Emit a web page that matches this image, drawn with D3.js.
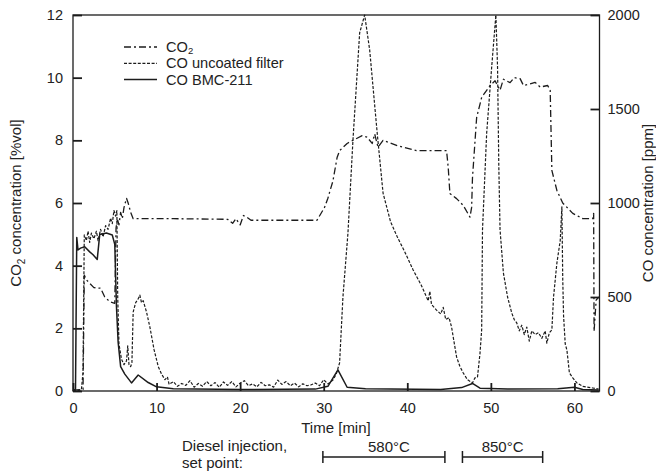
<!DOCTYPE html>
<html>
<head>
<meta charset="utf-8">
<script src="https://cdn.jsdelivr.net/npm/d3@7"></script>
<style>
  body { margin: 0; background: #fff; }
  svg { display: block; font-family: "Liberation Sans", Arial, sans-serif; }
</style>
</head>
<body>
<svg id="chart" width="656" height="473"></svg>
<script>
// --- data (time in min) ---
var co2Time = [0, 1.2, 1.35, 1.6, 2.5, 3.3, 3.8, 4.4, 5.0, 5.15, 5.3, 5.5, 5.7, 5.9, 6.1, 6.4, 6.6, 6.9, 7.2,
  12, 18.5, 19.1, 19.5, 20.0, 20.4, 20.8, 21.3, 25, 29.2, 30.1, 30.5, 30.7, 31.1, 31.6, 31.9, 32.8, 33.5,
  34.6, 35.2, 35.8, 36.1, 36.5, 37.1, 38.8, 41.1, 44.7, 44.9, 45.1, 45.9, 46.7, 47.5, 47.7, 47.8, 48.3,
  48.9, 49.9, 50.5, 51.1, 51.5, 52.3, 52.8, 53.5, 53.9, 54.7, 55.3, 55.9, 56.8, 57.1, 57.3, 57.9, 58.6,
  59.8, 61.0, 62.2, 62.3, 62.35, 62.6, 62.9];
var co2Values = [0.03, 0.05, 3.7, 3.55, 3.3, 3.28, 3.0, 2.85, 2.8, 5.2, 5.5, 5.3, 5.7, 5.5, 5.85, 6.15, 6.0, 5.7, 5.5,
  5.5, 5.48, 5.35, 5.5, 5.3, 5.6, 5.55, 5.45, 5.45, 5.45, 5.86, 6.15, 6.34, 6.7, 7.45, 7.67, 7.9, 8.0,
  8.15, 8.1, 7.9, 8.2, 7.78, 8.0, 7.83, 7.67, 7.67, 7.13, 6.3, 6.14, 5.92, 5.55, 5.86, 6.8, 8.73,
  9.37, 9.75, 9.9, 9.6, 9.95, 9.84, 10.0, 9.97, 9.75, 9.8, 9.85, 9.7, 9.75, 9.6, 7.04, 6.4, 6.0,
  5.67, 5.5, 5.5, 5.67, 1.9, 2.9, 3.0];

var uncoatedTime = [0, 1.0, 1.2, 1.35, 1.6, 1.8, 2.0, 2.2, 2.5, 2.8, 3.0, 3.3, 3.6, 3.9, 4.2, 4.5, 4.7, 4.9, 5.1,
  5.25, 5.35, 5.5, 5.8, 6.1, 6.4, 6.55, 6.7, 6.9, 7.05, 7.2, 7.5, 7.8, 8.0, 8.2, 8.4, 8.8, 9.2, 9.7,
  10.2, 10.6, 11.0, 11.3, 11.5, 12, 12.5, 13, 13.5, 14, 14.5, 15, 15.5, 16, 16.5, 17, 17.5, 18, 18.5,
  19, 19.5, 20, 20.5, 21, 21.5, 22, 22.5, 23, 23.5, 24, 24.5, 25, 25.5, 26, 26.5, 27, 27.5, 28, 28.5,
  29, 29.5, 30, 30.5, 31.1, 31.5, 31.9, 32.3, 32.9, 33.5, 34.3, 34.9, 35.5, 36.4, 37.1, 38.0, 38.8,
  39.7, 40.7, 41.7, 42.5, 42.7, 42.9, 43.5, 44.0, 44.3, 44.6, 45.0, 45.3, 45.6, 45.9, 46.3, 46.7, 47.2,
  47.8, 48.1, 48.4, 48.7, 48.9, 49.0, 49.5, 50.1, 50.6, 50.8, 50.95, 51.1, 51.5, 52.0, 52.5, 52.8, 53.1,
  53.4, 53.7, 54.0, 54.3, 54.6, 54.9, 55.3, 55.7, 56.1, 56.5, 56.7, 57.0, 57.3, 57.5, 57.9, 58.3, 58.5,
  58.6, 58.7, 58.9, 59.1, 59.4, 59.8, 60.3, 61.0, 62.2, 62.9];
var uncoatedValues = [0, 5, 100, 830, 800, 850, 790, 840, 810, 850, 800, 860, 820, 880, 860, 920, 890, 960, 930,
  960, 500, 250, 170, 140, 160, 240, 140, 130, 150, 420, 470, 490, 510, 470, 480, 420, 340, 220,
  130, 90, 60, 75, 35, 50, 25, 40, 30, 55, 20, 40, 25, 50, 28, 45, 20, 48, 30, 50, 22, 42, 55,
  28, 38, 22, 46, 28, 33, 20, 58, 35, 50, 28, 42, 22, 38, 28, 33, 42, 28, 60, 38, 58, 90, 150, 500,
  840, 1335, 1905, 2000, 1814, 1372, 1053, 900, 820, 740, 644, 560, 480, 530, 460, 430, 410, 445,
  380, 390, 340, 260, 181, 130, 96, 60, 43, 70, 74, 200, 325, 857, 1372, 1724, 2000, 1724, 1200,
  857, 628, 500, 415, 380, 362, 320, 350, 300, 340, 265, 320, 300, 310, 280, 320, 255, 310, 325, 500,
  680, 800, 980, 600, 400, 250, 218, 96, 70, 43, 25, 16, 10];

var bmcTime = [0, 0.3, 0.45, 0.6, 0.9, 1.4, 2.0, 2.4, 2.9, 3.2, 4.0, 4.7, 5.0, 5.2, 5.4, 5.7, 6.2, 7.0, 7.8, 9.0,
  10, 12, 20, 29, 30.5, 31.7, 32.8, 35, 44, 46.5, 47.8, 48.7, 52, 58, 60, 61, 62.9];
var bmcValues = [0, 10, 817, 750, 760, 767, 740, 725, 700, 833, 840, 830, 780, 450, 260, 130, 90, 43, 85, 45,
  22, 12, 8, 10, 25, 112, 20, 12, 8, 18, 40, 15, 10, 12, 20, 8, 5];

var xTicks = [0, 10, 20, 30, 40, 50, 60];
var leftTicks = [0, 2, 4, 6, 8, 10, 12];
var rightTicks = [0, 500, 1000, 1500, 2000];

var injectionLabels = ["580°C", "850°C"];
var injectionStart = [29.9, 46.6];
var injectionEnd = [44.5, 56.2];

// --- layout ---
var svg = d3.select("#chart");
var mLeft = 73, mRight = 599.5, mTop = 15, mBottom = 391;
var ink = "#1c1c1c", textColor = "#222";
var fs = 15; // label font size

var x = d3.scaleLinear().domain([0, 63]).range([mLeft, mRight]);
var yL = d3.scaleLinear().domain([0, 12]).range([mBottom, mTop]);
var yR = d3.scaleLinear().domain([0, 2000]).range([mBottom, mTop]);

function styleAxis(g) {
  g.select(".domain").remove();
  g.selectAll(".tick line").attr("stroke", ink).attr("stroke-width", 1.8);
  g.selectAll(".tick text").attr("fill", textColor).attr("font-size", 14.5)
    .attr("font-family", "Liberation Sans, Arial, sans-serif");
}

svg.append("g").attr("transform", `translate(0,${mBottom})`)
  .call(d3.axisBottom(x).tickValues(xTicks).tickSizeInner(-8).tickSizeOuter(0).tickPadding(12))
  .call(styleAxis);
svg.append("g").attr("transform", `translate(${mLeft},0)`)
  .call(d3.axisLeft(yL).tickValues(leftTicks).tickSizeInner(-9).tickSizeOuter(0).tickPadding(10))
  .call(styleAxis);
svg.append("g").attr("transform", `translate(${mRight},0)`)
  .call(d3.axisRight(yR).tickValues(rightTicks).tickFormat(d3.format("d"))
    .tickSizeInner(-9).tickSizeOuter(0).tickPadding(8))
  .call(styleAxis);

// series
function draw(times, values, yScale, dash, width) {
  var pts = times.map((t, i) => [t, values[i]]);
  var line = d3.line().x(d => x(d[0])).y(d => yScale(d[1]));
  svg.append("path").datum(pts)
    .attr("fill", "none").attr("stroke", ink)
    .attr("stroke-width", width)
    .attr("stroke-dasharray", dash)
    .attr("stroke-linejoin", "round")
    .attr("d", line);
}
draw(bmcTime, bmcValues, yR, null, 1.5);
draw(uncoatedTime, uncoatedValues, yR, "3,1.6", 1.2);
draw(co2Time, co2Values, yL, "7,3,2,3", 1.3);

// frame
svg.append("rect").attr("x", mLeft).attr("y", mTop)
  .attr("width", mRight - mLeft).attr("height", mBottom - mTop)
  .attr("fill", "none").attr("stroke", ink).attr("stroke-width", 1.3);

// axis titles
var lt = svg.append("text").attr("transform", "translate(21,203) rotate(-90)")
  .attr("text-anchor", "middle").attr("font-size", fs).attr("fill", textColor);
lt.append("tspan").text("CO");
lt.append("tspan").attr("font-size", 10).attr("dy", 4).text("2");
lt.append("tspan").attr("dy", -4).text(" concentration [%vol]");

svg.append("text").attr("transform", "translate(653,203) rotate(-90)")
  .attr("text-anchor", "middle").attr("font-size", fs).attr("fill", textColor)
  .text("CO concentration [ppm]");

svg.append("text").attr("x", 336).attr("y", 433).attr("text-anchor", "middle")
  .attr("font-size", fs).attr("fill", textColor).text("Time [min]");

// legend
var legend = [
  { name: "CO", sub: "2", dash: "7,3,2,3", w: 1.3 },
  { name: "CO uncoated filter", dash: "3,1.6", w: 1.2 },
  { name: "CO BMC-211", dash: null, w: 1.5 }
];
legend.forEach((d, i) => {
  var yy = 47 + i * 16.3;
  svg.append("line").attr("x1", 124).attr("x2", 157).attr("y1", yy).attr("y2", yy)
    .attr("stroke", ink).attr("stroke-width", d.w).attr("stroke-dasharray", d.dash);
  var t = svg.append("text").attr("x", 166).attr("y", yy + 5)
    .attr("font-size", 14.6).attr("fill", textColor);
  t.append("tspan").text(d.name);
  if (d.sub) t.append("tspan").attr("font-size", 9.5).attr("dy", 2).text(d.sub);
});

// injection set points
svg.append("text").attr("x", 182).attr("y", 451).attr("font-size", fs)
  .attr("fill", textColor).text("Diesel injection,");
svg.append("text").attr("x", 182).attr("y", 468).attr("font-size", fs)
  .attr("fill", textColor).text("set point:");

injectionLabels.forEach((lab, i) => {
  var x0 = x(injectionStart[i]), x1 = x(injectionEnd[i]), yb = 457;
  var g = svg.append("g").attr("stroke", ink).attr("stroke-width", 1.5);
  g.append("line").attr("x1", x0).attr("x2", x1).attr("y1", yb).attr("y2", yb);
  g.append("line").attr("x1", x0).attr("x2", x0).attr("y1", yb - 6).attr("y2", yb + 6);
  g.append("line").attr("x1", x1).attr("x2", x1).attr("y1", yb - 6).attr("y2", yb + 6);
  svg.append("text").attr("x", (x0 + x1) / 2 + (i == 0 ? 5 : 0)).attr("y", 452)
    .attr("text-anchor", "middle").attr("font-size", fs).attr("fill", textColor).text(lab);
});
</script>
</body>
</html>
